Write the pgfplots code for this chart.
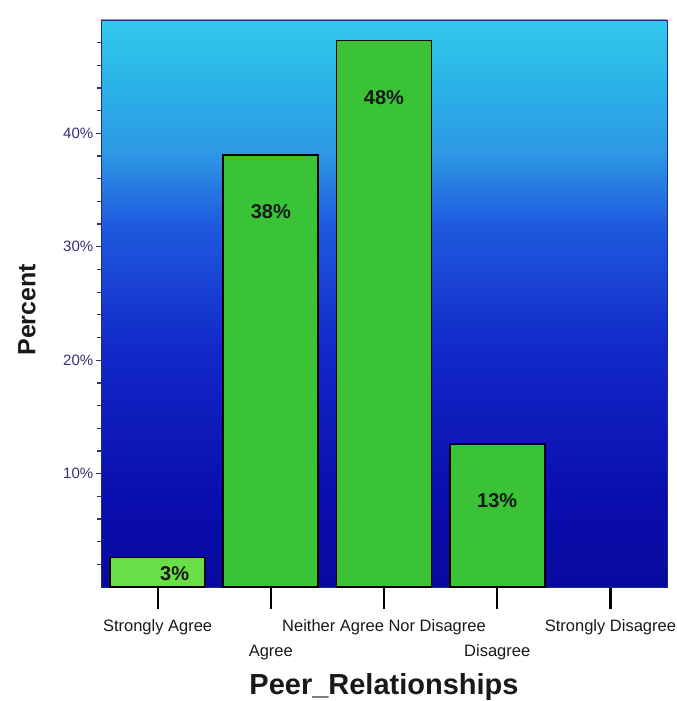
\documentclass[border=0pt]{standalone}
\usepackage{fontspec}
\setmainfont{Liberation Sans}
\usepackage{pgfplots}
\pgfplotsset{compat=1.18}

\definecolor{barfill}{RGB}{58,195,55}
\definecolor{barfillA}{RGB}{105,222,70}
\definecolor{tickblue}{RGB}{55,45,115}
\definecolor{labgray}{RGB}{25,25,25}
\definecolor{frameblue}{RGB}{25,45,140}
% background gradient, bottom (deep blue) to top (cyan)
\definecolor{bgA}{RGB}{8,10,158}
\definecolor{bgB}{RGB}{10,12,172}
\definecolor{bgC}{RGB}{18,40,200}
\definecolor{bgD}{RGB}{30,90,222}
\definecolor{bgE}{RGB}{45,150,228}
\definecolor{bgF}{RGB}{42,182,232}
\definecolor{bgG}{RGB}{52,200,235}
\pgfdeclareverticalshading{plotbg}{100bp}{%
  color(0bp)=(bgA); color(25bp)=(bgA); color(32bp)=(bgB); color(46bp)=(bgC);
  color(57bp)=(bgD); color(63bp)=(bgE); color(70bp)=(bgF);
  color(75bp)=(bgG); color(100bp)=(bgG)}

\begin{document}
\begin{tikzpicture}
\begin{axis}[
  scale only axis, width=566pt, height=567pt,
  xmin=-0.5, xmax=4.5, ymin=0, ymax=50,
  axis background/.style={shading=plotbg},
  axis line style={draw=frameblue, line width=0.6pt},
  tick align=outside,
  xtick pos=bottom, ytick pos=left,
  xtick={0,1,2,3,4},
  xticklabels={Strongly Agree, {\vphantom{Ag}\\Agree}, Neither Agree Nor Disagree, {\vphantom{Ag}\\Disagree}, Strongly Disagree},
  xticklabel style={align=center, anchor=north, yshift=-25pt, font=\fontsize{16.5}{25}\selectfont, text=labgray},
  xtick style={black, line width=2.2pt, /pgfplots/major tick length=22pt},
  ytick={10,20,30,40},
  yticklabels={10\%,20\%,30\%,40\%},
  minor ytick={2,4,6,8,12,14,16,18,22,24,26,28,32,34,36,38,42,44,46,48},
  yticklabel style={font=\fontsize{15}{18}\selectfont, text=tickblue},
  ytick style={tickblue, line width=1.3pt, /pgfplots/major tick length=5pt},
  minor tick length=4pt,
  ylabel={Percent},
  ylabel style={at={(axis description cs:-0.131,0.489)}, anchor=center, font=\bfseries\fontsize{25}{30}\selectfont, text=labgray},
  xlabel={Peer\_Relationships},
  xlabel style={at={(axis description cs:0.5,-0.176)}, anchor=center, font=\bfseries\fontsize{29}{33}\selectfont, text=labgray},
  ybar, bar width=0.84,
  nodes near coords={\pgfmathprintnumber[fixed,precision=0,assume math mode=true]{\pgfplotspointmeta}\%},
  visualization depends on={y \as \yval},
  every node near coord/.append style={font=\bfseries\fontsize{20}{24}\selectfont, text=labgray, anchor=center,
    yshift={ifthenelse(\yval<5,-16,-57)}, xshift={ifthenelse(\yval<5,17,0)}},
]
% first category drawn in a lighter green
\addplot[ybar, bar shift=0pt, fill=barfillA, draw=black, line width=1.8pt] coordinates {(0,2.6)};
\addplot[ybar, bar shift=0pt, fill=barfill, draw=black, line width=1.8pt] coordinates {(1,38.1) (2,48.2) (3,12.6)};
\end{axis}
\pgfresetboundingbox
\path ([shift={(-101pt,-114pt)}]current axis.south west) rectangle ([shift={(9pt,20pt)}]current axis.north east);
\end{tikzpicture}
\end{document}
